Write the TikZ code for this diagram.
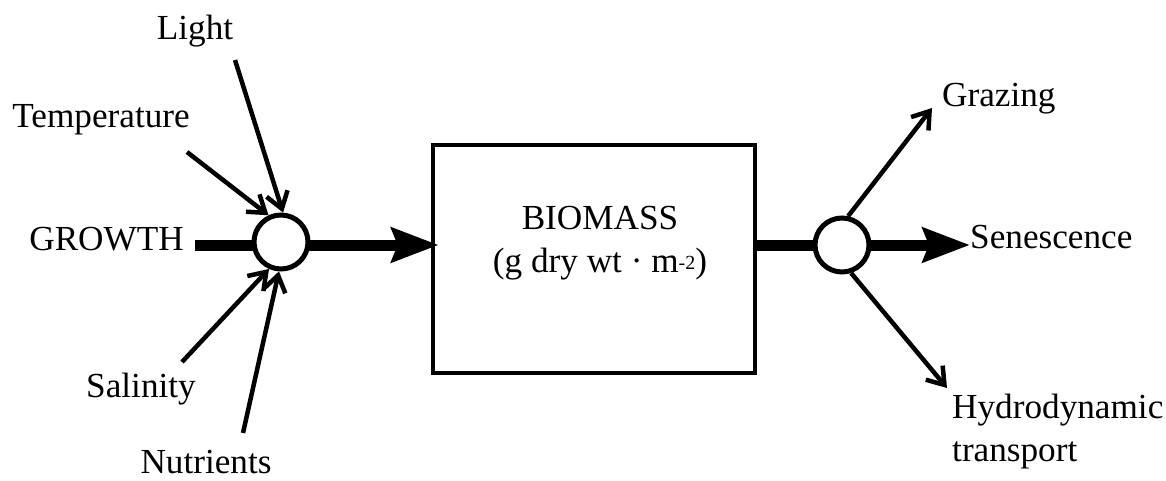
\documentclass[tikz,border=0pt]{standalone}
\usepackage{fontspec}
\setmainfont{Liberation Serif}
\usetikzlibrary{arrows.meta}
\pgfdeclarelayer{bg}
\pgfsetlayers{bg,main}
\begin{document}
\begin{tikzpicture}[x=1pt,y=-1pt,
  lbl/.style={inner sep=0pt,font=\fontsize{35.2}{43}\selectfont},
  junction/.style={circle,draw,line width=5pt,minimum size=54pt,inner sep=0pt,fill=white},
  flow/.style={line width=11pt},
  bigarrow/.style={line width=11pt,-{Stealth[length=47pt,width=34pt,inset=6pt]}},
  thinarrow/.style={line width=4.5pt,-{Straight Barb[length=16pt,width=22pt,line width=4.5pt]}}]
\useasboundingbox (0,0) rectangle (1166,481);
% nodes
\node[junction] (c1) at (281,242) {};
\node[junction] (c2) at (842,245) {};
\node[draw,line width=4.5pt,minimum width=322pt,minimum height=228pt,inner sep=0pt] (box) at (594,259) {};
\node[lbl,align=center,anchor=north] (bio) at (600,206) {BIOMASS\\(g dry wt · m\raisebox{3pt}{\fontsize{20}{20}\selectfont -2})};
\node[lbl,anchor=base] (light) at (195,40) {Light};
\node[lbl,anchor=base] (temp) at (101,128) {Temperature};
\node[lbl,anchor=base east,inner sep=11pt] (growth) at (195,250) {GROWTH};
\node[lbl,anchor=base] (sal) at (141,397) {Salinity};
\node[lbl,anchor=base] (nut) at (206,473) {Nutrients};
\node[lbl,anchor=base west] (graz) at (942,107) {Grazing};
\node[lbl,anchor=base west] (sen) at (970,248) {Senescence};
\node[lbl,anchor=north west,align=left] (hyd) at (952,394) {Hydrodynamic\\transport};
% free ends
\coordinate (lightS) at (235,60);
\coordinate (tempS) at (187,152);
\coordinate (salS) at (182,362);
\coordinate (nutS) at (243,433);
\coordinate (grazE) at (932,108);
\coordinate (hydE) at (947,388);
% connectors
\begin{pgfonlayer}{bg}
\draw[flow] (growth.east |- 0,245) -- (c1.center |- 0,245);
\draw[bigarrow,shorten >=-8pt] (c1.center |- 0,245) -- (box.west |- 0,245);
\draw[flow] (box.east |- c2) -- (c2.center);
\draw[bigarrow] (c2.center) -- (c2 -| sen.west);
\end{pgfonlayer}
\draw[thinarrow] (lightS) -- (c1.86);
\draw[thinarrow] (tempS) -- (c1.115);
\draw[thinarrow] (salS) -- (c1.246);
\draw[thinarrow] (nutS) -- (c1.266);
\draw[thinarrow] (c2.78) -- (grazE);
\draw[thinarrow] (c2.-72) -- (hydE);
\end{tikzpicture}
\end{document}
